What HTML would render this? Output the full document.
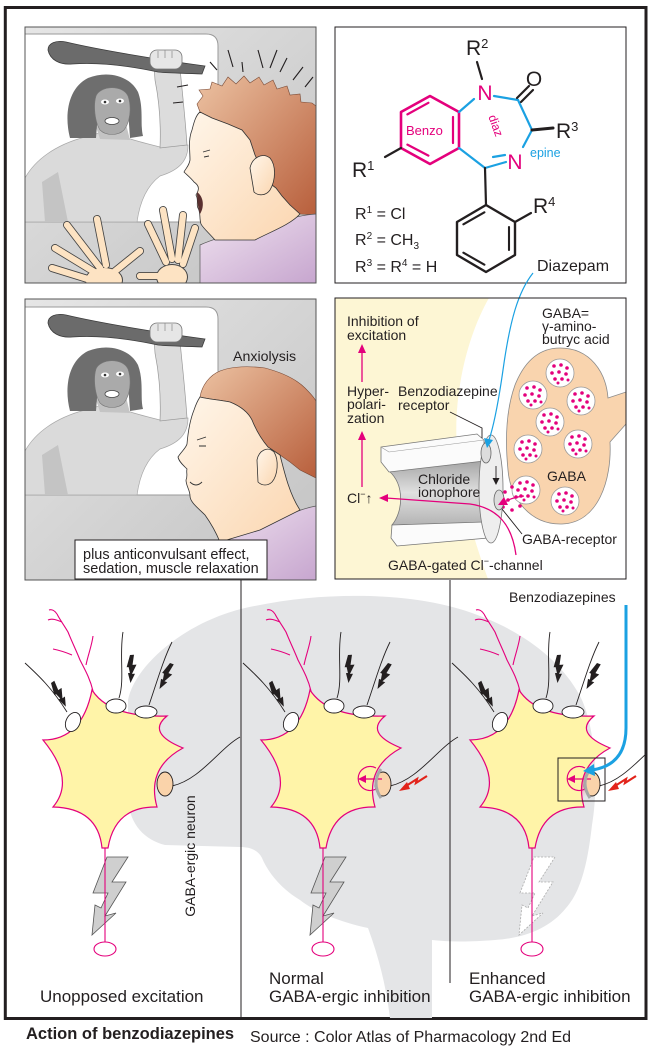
<!DOCTYPE html>
<html><head><meta charset="utf-8">
<style>
html,body{margin:0;padding:0;background:#fff;}
svg{display:block;}
text{font-family:"Liberation Sans",Arial,sans-serif;fill:#231f20;}
</style></head><body>
<svg width="653" height="1048" viewBox="0 0 653 1048" xmlns="http://www.w3.org/2000/svg" xmlns:xlink="http://www.w3.org/1999/xlink">
<defs>
 <linearGradient id="bg" x1="0" y1="0" x2="1" y2="1">
  <stop offset="0" stop-color="#e6e6e6"/><stop offset="1" stop-color="#c2c2c2"/>
 </linearGradient>
 <linearGradient id="hair" x1="0" y1="0" x2="1" y2="1">
  <stop offset="0" stop-color="#ecc2a2"/><stop offset="1" stop-color="#b85f3c"/>
 </linearGradient>
 <linearGradient id="shirt" x1="0" y1="0" x2="1" y2="1">
  <stop offset="0" stop-color="#efe2ef"/><stop offset="1" stop-color="#c7a6cf"/>
 </linearGradient>
 <linearGradient id="skin" x1="0" y1="0" x2="1" y2="1">
  <stop offset="0" stop-color="#fff6ea"/><stop offset="1" stop-color="#fbd6b0"/>
 </linearGradient>
 <linearGradient id="chan" x1="0" y1="0" x2="0" y2="1">
  <stop offset="0" stop-color="#a4a4a4"/><stop offset="0.5" stop-color="#e0e0e0"/><stop offset="1" stop-color="#b4b4b4"/>
 </linearGradient>
 <radialGradient id="glow" cx="0.5" cy="0.5" r="0.5">
  <stop offset="0" stop-color="#fde4e4"/>
  <stop offset="0.45" stop-color="#f07f98"/>
  <stop offset="0.7" stop-color="#f49aa8" stop-opacity="0.7"/>
  <stop offset="1" stop-color="#f8c0c0" stop-opacity="0"/>
 </radialGradient>
 <clipPath id="cp1"><rect x="25" y="27" width="291" height="256"/></clipPath>
 <clipPath id="cp3"><rect x="25" y="299" width="291" height="281"/></clipPath>
 <clipPath id="clipBot"><rect x="6" y="580" width="640" height="438"/></clipPath>

 <g id="cave">
  <path d="M25,34 H206 Q218,34 218,46 V222 H25 Z" fill="#fff" stroke="#9a9a9a" stroke-width="1"/>
  <path d="M25,178 C35,160 55,145 85,137 C95,134 103,132 110,130 C120,137 140,142 160,147 L188,145 C188,160 180,170 160,176 C148,185 140,200 137,222 L25,222 Z" fill="#dadada" stroke="#a8a8a8" stroke-width="0.7"/>
  <path d="M42,182 L58,172 L68,222 L45,222 Z" fill="#c4c4c4"/>
  <path d="M95,124 L126,124 L130,140 L100,139 Z" fill="#c4c4c4"/>
  <path d="M70,138 C64,115 68,88 88,78 C108,70 130,76 138,92 C144,108 140,125 143,136 L130,138 L128,110 L98,112 L96,138 Z" fill="#6e6e6e"/>
  <path d="M96,96 C100,86 122,84 128,96 C132,108 130,122 124,130 C118,136 106,136 100,130 C95,122 93,106 96,96 Z" fill="#aaaaaa" stroke="#777" stroke-width="0.6"/>
  <ellipse cx="105" cy="102" rx="4" ry="2.5" fill="#fff"/><circle cx="105" cy="102" r="1.3" fill="#333"/>
  <ellipse cx="120" cy="101" rx="4" ry="2.5" fill="#fff"/><circle cx="120" cy="101" r="1.3" fill="#333"/>
  <ellipse cx="112" cy="121" rx="7" ry="3.5" fill="#fff" stroke="#444" stroke-width="0.8"/>
  <path d="M160,148 C161,125 159,100 155,80 L154,66 L180,68 C182,90 185,115 187,145 Z" fill="#dcdcdc" stroke="#999" stroke-width="0.7"/>
  <path d="M48,50 C48,43 56,40 66,42 C100,50 160,60 205,66 L202,74 C180,73 165,73 158,72 C130,66 100,62 72,64 C60,65 50,60 48,50 Z" fill="#6b6b6b" stroke="#3c3c3c" stroke-width="0.8"/>
  <rect x="150" y="50" width="32" height="19" rx="7" fill="#e6e6e6" stroke="#777" stroke-width="0.8"/>
  <path d="M158,51 V58 M165,50 V58 M172,51 V58" stroke="#888" stroke-width="0.7"/>
 </g>

 <g id="ves">
  <circle cx="0" cy="0" r="14" fill="#fff" stroke="#9a9a9a" stroke-width="0.8"/>
  <g fill="#e4007c">
   <circle cx="-6" cy="-7" r="1.8"/><circle cx="1" cy="-8" r="1.8"/><circle cx="7" cy="-5" r="1.8"/>
   <circle cx="-8" cy="0" r="1.8"/><circle cx="-1" cy="-1" r="1.8"/><circle cx="6" cy="1" r="1.8"/>
   <circle cx="-5" cy="6" r="1.8"/><circle cx="2" cy="6" r="1.8"/><circle cx="8" cy="7" r="1.5"/>
   <circle cx="-2" cy="10" r="1.5"/>
  </g>
 </g>

 <path id="bolt" d="M0,0 L4,0 L2,10 L6,10 L1,19 L4,19 L-1,28 L-3,18 L-1,18 L-2,12 L-4,12 Z" fill="#231f20"/>

 <g id="neuron">
  <path d="M92,690 Q110,718 167,716 Q146,733 183,748 Q146,768 157,807 Q115,806 108,848 L102,848 Q98,808 53,807 Q76,780 43,740 Q82,740 92,690 Z" fill="#fff4a8" stroke="#e4007c" stroke-width="1.2"/>
  <g fill="none" stroke="#e4007c" stroke-width="1.1">
   <path d="M93,691 C90,678 84,668 80,660 C76,650 72,642 68,632 C64,625 60,620 57,614"/>
   <path d="M86,665 C88,655 92,645 93,636"/>
   <path d="M72,655 C65,652 58,650 53,649"/>
   <path d="M62,622 C57,620 52,618 48,620"/>
   <path d="M57,614 C55,611 52,609 49,610"/>
   <path d="M105,848 L105,942"/>
  </g>
  <ellipse cx="105" cy="949" rx="11" ry="7" fill="#fff" stroke="#e4007c" stroke-width="1.1"/>
  <g fill="none" stroke="#231f20" stroke-width="0.9">
   <path d="M25,663 C38,675 52,688 67,712"/>
   <path d="M123,632 C119,655 125,680 119,698"/>
   <path d="M172,642 C163,660 156,685 149,705"/>
   <path d="M240,737 C220,748 200,780 172,786"/>
  </g>
  <ellipse cx="73" cy="722" rx="7" ry="10" transform="rotate(25 73 722)" fill="#fff" stroke="#231f20" stroke-width="0.9"/>
  <ellipse cx="116" cy="706" rx="10" ry="7" fill="#fff" stroke="#231f20" stroke-width="0.9"/>
  <ellipse cx="146" cy="712" rx="11" ry="6" fill="#fff" stroke="#231f20" stroke-width="0.9"/>
  <ellipse cx="165" cy="784" rx="8" ry="12" fill="#fad3aa" stroke="#231f20" stroke-width="0.9"/>
  <use xlink:href="#bolt" href="#bolt" transform="translate(51,683) rotate(-34)"/>
  <use xlink:href="#bolt" href="#bolt" transform="translate(130,655) rotate(-3)"/>
  <use xlink:href="#bolt" href="#bolt" transform="translate(170,663) rotate(20)"/>
 </g>

 <g id="inhib">
  <path d="M376,768 A12,12 0 1,0 376,789" fill="none" stroke="#e4007c" stroke-width="1.2"/>
  <path d="M382,779 L364,779" stroke="#e4007c" stroke-width="1.3"/>
  <path d="M358,779 L366,775 L366,783 Z" fill="#e4007c"/>
  <path d="M381,769 Q371,783 381,798" fill="none" stroke="#a8a8a8" stroke-width="3"/>
  <path d="M427,776 L416,783 L417,779 L406,786" fill="none" stroke="#e2231a" stroke-width="2.2"/>
  <path d="M399,791 L407,782 L410,789 Z" fill="#e2231a"/>
 </g>
</defs>

<!-- outer frame -->
<rect x="5.3" y="7.5" width="640.7" height="1011" fill="#fff" stroke="#231f20" stroke-width="3"/>

<!-- PANEL 1 -->
<g clip-path="url(#cp1)">
 <rect x="25" y="27" width="291" height="256" fill="url(#bg)"/>
 <use xlink:href="#cave" href="#cave"/>
 <path d="M197,104 L203,96 L199,90 L210,89 L212,82 L222,86 L228,77 L236,84 L244,76 L250,83 L259,77 L264,85 L273,80 L277,89 L287,86 L290,95 L300,94 L301,102 L312,103 L316,106 L316,215 L300,214 L290,205 L282,196 L276,188 L268,182 L262,170 L255,155 L250,140 L242,130 L228,124 L212,118 L200,112 Z" fill="url(#hair)" stroke="#7a4a35" stroke-width="0.6"/>
 <path d="M200,283 L200,245 C215,238 240,232 265,225 C285,220 300,215 316,214 L316,283 Z" fill="url(#shirt)" stroke="#555" stroke-width="0.7"/>
 <path d="M200,112 L212,118 L228,124 L242,130 L250,140 L255,155 L262,170 L268,182 L276,188 L282,196 L290,205 L300,214 C290,225 270,232 255,240 L215,240 C208,232 203,228 201,224 C199,218 201,213 198,208 C196,205 199,200 196,195 C199,190 200,186 194,182 C191,178 187,175 184,172 C186,168 189,166 190,160 C190,150 188,140 192,130 C194,122 196,115 200,112 Z" fill="url(#skin)" stroke="#333" stroke-width="0.8"/>
 <path d="M197,192 C203,196 205,206 200,214 C198,208 197,200 197,192 Z" fill="#5a3030"/>
 <path d="M203,152 L210,150 M204,157 L209,156" stroke="#333" stroke-width="0.9"/>
 <path d="M250,168 C252,158 262,152 270,158 C276,165 276,180 270,190 C266,196 258,196 254,192 Z" fill="url(#skin)" stroke="#333" stroke-width="0.8"/>
 <g stroke="#231f20" stroke-width="1.1" fill="none">
  <path d="M228,50 L233,67 M242,62 L243,72 M258,50 L263,68 M277,50 L270,68 M287,58 L280,72 M303,67 L293,80 M313,77 L305,87 M210,62 L217,70 M177,87 L188,85 M173,103 L183,102"/>
 </g>
 <!-- hands -->
 <g stroke-linecap="round" fill="none">
  <path d="M100,268 L67,225 M106,265 L97,219 M96,273 L55,248 M94,281 L52,268 M114,272 L140,251" stroke="#444" stroke-width="8"/>
  <path d="M166,262 L148,224 M172,259 L163,210 M178,260 L183,215 M183,264 L195,228 M160,276 L140,276" stroke="#444" stroke-width="8"/>
 </g>
 <ellipse cx="104" cy="280" rx="19" ry="13" fill="#444"/>
 <ellipse cx="172" cy="277" rx="16" ry="13" fill="#444"/>
 <g stroke-linecap="round" fill="none">
  <path d="M100,268 L67,225 M106,265 L97,219 M96,273 L55,248 M94,281 L52,268 M114,272 L140,251" stroke="#fde3c3" stroke-width="6.3"/>
  <path d="M166,262 L148,224 M172,259 L163,210 M178,260 L183,215 M183,264 L195,228 M160,276 L140,276" stroke="#fde3c3" stroke-width="6.3"/>
 </g>
 <ellipse cx="104" cy="280" rx="18" ry="12" fill="#fde3c3"/>
 <ellipse cx="172" cy="277" rx="15" ry="12" fill="#fde3c3"/>
</g>
<rect x="25" y="27" width="291" height="256" fill="none" stroke="#555" stroke-width="1"/>

<!-- PANEL 3 -->
<g clip-path="url(#cp3)">
 <rect x="25" y="299" width="291" height="281" fill="url(#bg)"/>
 <use xlink:href="#cave" href="#cave" transform="translate(0,273)"/>
 <path d="M200,397 C202,385 210,375 220,371 C232,366 250,366 265,368 C280,372 295,378 305,388 C312,395 316,400 316,402 L316,478 L300,470 L290,462 L280,455 L268,447 C262,440 256,430 252,420 C248,412 240,406 230,402 C220,400 208,399 200,397 Z" fill="url(#hair)" stroke="#7a4a35" stroke-width="0.6"/>
 <path d="M210,580 L212,545 C230,536 255,528 280,518 C295,512 305,508 316,506 L316,580 Z" fill="url(#shirt)" stroke="#555" stroke-width="0.7"/>
 <path d="M200,397 C208,399 220,400 230,402 C240,406 248,412 252,420 C256,430 262,440 268,447 L280,455 C285,475 290,495 300,510 L260,530 L220,542 C215,530 210,522 205,515 C198,508 190,502 190,496 C190,490 186,486 186,480 C188,476 186,472 187,469 C184,466 179,462 178,457 C181,452 186,448 187,444 C188,432 190,420 194,410 C196,404 198,400 200,397 Z" fill="url(#skin)" stroke="#333" stroke-width="0.8"/>
 <path d="M197,440 L206,437 M199,446 L206,446 M190,482 C194,486 198,486 202,482" stroke="#333" stroke-width="0.9" fill="none"/>
 <path d="M257,460 C259,450 268,446 274,452 C279,460 278,475 272,482 C268,486 262,486 258,482 Z" fill="url(#skin)" stroke="#333" stroke-width="0.8"/>
 <text x="233" y="361" font-size="14.2">Anxiolysis</text>
</g>
<rect x="25" y="299" width="291" height="281" fill="none" stroke="#555" stroke-width="1"/>
<rect x="75" y="540" width="192" height="39" fill="#fff" stroke="#231f20" stroke-width="1"/>
<text x="83" y="559" font-size="14.5">plus anticonvulsant effect,</text>
<text x="83" y="573" font-size="14.5">sedation, muscle relaxation</text>

<!-- PANEL 2 chemistry -->
<rect x="335" y="27" width="291" height="256" fill="#fff" stroke="#231f20" stroke-width="1"/>
<g stroke-linecap="round" fill="none">
 <path d="M430,96 L459,112 L459,148 L430,164 L401,148 L401,112 Z" stroke="#e4007c" stroke-width="2.6" stroke-linejoin="round"/>
 <path d="M453,117 L453,143 M428.4,155.6 L407.4,144.6 M407.4,114.4 L428.4,102.8" stroke="#e4007c" stroke-width="2.2"/>
 <path d="M486,205 L515,222 L515,255 L486,272 L457,255 L457,222 Z" stroke="#231f20" stroke-width="2.4" stroke-linejoin="round"/>
 <path d="M509,227 L509,250 M484.4,264.7 L463.4,252.7 M463.4,224.3 L484.4,212.3" stroke="#231f20" stroke-width="2.1"/>
 <g stroke="#1ba1e2" stroke-width="2.2">
  <path d="M459,112 L474,99"/>
  <path d="M494,96 L518,100"/>
  <path d="M518,100 L532,130"/>
  <path d="M532,130 L523,147"/>
  <path d="M506,162 L485,168"/>
  <path d="M493,157 L505,155"/>
  <path d="M485,168 L459,148"/>
 </g>
 <g stroke="#231f20" stroke-width="2.2">
  <path d="M477,62 L482,79"/>
  <path d="M517,98 L529,86 M521,102 L533,90"/>
  <path d="M532,130 L553,128" stroke-width="3"/>
  <path d="M485,168 L486,205"/>
  <path d="M401,148 L385,157"/>
  <path d="M515,222 L531,213"/>
 </g>
</g>
<text x="466" y="55" font-size="21">R<tspan font-size="13" dy="-7">2</tspan></text>
<text x="534" y="86" font-size="21" text-anchor="middle">O</text>
<text x="485" y="100" font-size="21" text-anchor="middle" style="fill:#e4007c">N</text>
<text x="515" y="169" font-size="21" text-anchor="middle" style="fill:#e4007c">N</text>
<text x="556" y="138" font-size="21">R<tspan font-size="13" dy="-7">3</tspan></text>
<text x="352" y="177" font-size="21">R<tspan font-size="13" dy="-7">1</tspan></text>
<text x="533" y="213" font-size="21">R<tspan font-size="13" dy="-7">4</tspan></text>
<text x="406" y="135" font-size="13" style="fill:#e4007c">Benzo</text>
<text x="492" y="127" font-size="12" text-anchor="middle" transform="rotate(70 492 127)" style="fill:#e4007c">diaz</text>
<text x="530" y="157" font-size="12.5" style="fill:#1ba1e2">epine</text>
<text x="355" y="219" font-size="16">R<tspan font-size="10" dy="-6">1</tspan><tspan dy="6"> = Cl</tspan></text>
<text x="355" y="245" font-size="16">R<tspan font-size="10" dy="-6">2</tspan><tspan dy="6"> = CH</tspan><tspan font-size="10" dy="4">3</tspan></text>
<text x="355" y="272" font-size="16">R<tspan font-size="10" dy="-6">3</tspan><tspan dy="6"> = R</tspan><tspan font-size="10" dy="-6">4</tspan><tspan dy="6"> = H</tspan></text>
<text x="537" y="271" font-size="16">Diazepam</text>

<!-- PANEL 4 channel -->
<rect x="335" y="298" width="291" height="281" fill="#fff"/>
<path d="M335,298 L489,298 C466,338 453,398 457,448 C461,498 474,540 488,579 L335,579 Z" fill="#fdf6d4"/>
<path d="M560,348 C590,348 606,372 608,398 L626,392 L626,424 L610,442 C612,480 598,523 562,524 C530,525 510,498 508,470 C505,440 506,410 515,385 C525,360 540,348 560,348 Z" fill="#f9d4ae" stroke="#8a8a8a" stroke-width="0.8"/>
<use xlink:href="#ves" href="#ves" x="560" y="373"/>
<use xlink:href="#ves" href="#ves" x="533" y="395"/>
<use xlink:href="#ves" href="#ves" x="581" y="401"/>
<use xlink:href="#ves" href="#ves" x="550" y="422"/>
<use xlink:href="#ves" href="#ves" x="528" y="449"/>
<use xlink:href="#ves" href="#ves" x="578" y="444"/>
<use xlink:href="#ves" href="#ves" x="565" y="501"/>
<use xlink:href="#ves" href="#ves" x="526" y="490"/>
<g fill="#e4007c">
 <circle cx="505" cy="492" r="1.8"/><circle cx="512" cy="487" r="1.8"/><circle cx="508" cy="500" r="1.8"/>
 <circle cx="516" cy="497" r="1.8"/><circle cx="503" cy="507" r="1.8"/><circle cx="520" cy="506" r="1.8"/><circle cx="512" cy="510" r="1.8"/>
</g>
<text x="547" y="481" font-size="14">GABA</text>
<!-- channel -->
<path d="M389,471 L484,460 L484,523 L392,525 C403,512 405,485 389,471 Z" fill="url(#chan)" stroke="#777" stroke-width="0.8"/>
<path d="M381,447 L477,434 L484,440 L484,461 L389,472 L381,462 Z" fill="#fbfbfb" stroke="#777" stroke-width="0.8"/>
<path d="M381,447 L389,452 L484,440" fill="none" stroke="#999" stroke-width="0.6"/>
<path d="M392,525 L484,522 L488,538 L397,546 L391,538 Z" fill="#fbfbfb" stroke="#777" stroke-width="0.8"/>
<ellipse cx="491" cy="489" rx="12" ry="54" fill="#eeeeee" stroke="#777" stroke-width="0.8"/>
<ellipse cx="486" cy="453" rx="5" ry="10" fill="#dcdcdc" stroke="#666" stroke-width="0.8"/>
<ellipse cx="499" cy="500" rx="5" ry="10" fill="#dcdcdc" stroke="#666" stroke-width="0.8"/>
<path d="M496,466 L496,478" stroke="#231f20" stroke-width="0.9"/>
<path d="M492.5,478 L499.5,478 L496,485 Z" fill="#231f20"/>
<text x="418" y="484" font-size="14">Chloride</text>
<text x="418" y="497" font-size="14">ionophore</text>
<!-- arrows -->
<path d="M516,555 C512,525 498,508 470,504 L386,498" fill="none" stroke="#e4007c" stroke-width="1.3"/>
<path d="M379,498 L388,494 L388,502 Z" fill="#e4007c"/>
<path d="M524,496 C516,497 509,499 505,502" fill="none" stroke="#e4007c" stroke-width="1.3"/>
<path d="M498,505 L504,497 L508,505 Z" fill="#e4007c"/>
<path d="M362,487 L362,439 M362,382 L362,352" stroke="#e4007c" stroke-width="1.3"/>
<path d="M362,431 L358,440 L366,440 Z M362,344 L358,353 L366,353 Z" fill="#e4007c"/>
<path d="M533,273 C518,292 510,320 503,370 C498,405 493,428 489,440" fill="none" stroke="#1ba1e2" stroke-width="1.2"/>
<path d="M487,448 L484,438 L493,440 Z" fill="#1ba1e2"/>
<path d="M450,412 L482,428 L482,438 M502,509 L522,534" fill="none" stroke="#231f20" stroke-width="0.9"/>
<text x="347" y="326" font-size="14">Inhibition of</text>
<text x="347" y="340" font-size="14">excitation</text>
<text x="347" y="396" font-size="14">Hyper-</text>
<text x="347" y="409" font-size="14">polari-</text>
<text x="347" y="423" font-size="14">zation</text>
<text x="398" y="396" font-size="14">Benzodiazepine</text>
<text x="398" y="410" font-size="14">receptor</text>
<text x="347" y="503" font-size="14">Cl<tspan font-size="9" dy="-6">−</tspan><tspan dy="6">↑</tspan></text>
<text x="542" y="318" font-size="14">GABA=</text>
<text x="542" y="331" font-size="14">γ-amino-</text>
<text x="542" y="344" font-size="14">butryc acid</text>
<text x="522" y="544" font-size="14">GABA-receptor</text>
<text x="388" y="570" font-size="14">GABA-gated Cl<tspan font-size="9" dy="-6">−</tspan><tspan dy="6">-channel</tspan></text>
<rect x="335" y="298" width="291" height="281" fill="none" stroke="#231f20" stroke-width="1"/>

<!-- BOTTOM SECTION -->
<g clip-path="url(#clipBot)">
 <path d="M128,700 C135,665 185,622 245,608 C290,598 330,595 370,596 C420,598 455,605 490,620 C530,637 565,665 582,700 C597,735 598,790 592,825 C588,860 582,890 566,908 C550,928 525,938 495,940 C470,942 450,942 432,940 L432,1018 L390,1018 C386,985 378,955 368,928 C340,922 315,912 300,900 C280,888 268,872 262,858 C258,850 250,847 240,847 L165,845 C145,840 130,825 128,800 Z" fill="#e4e5e7"/>
 <path d="M107,857 L128,857 L112,882 L126,882 L105,916 L116,913 L92,935 L95,905 L101,908 L108,893 L93,893 Z" fill="#cfcfcf" stroke="#555" stroke-width="0.8"/>
 <path d="M325,857 L346,857 L330,882 L344,882 L323,916 L334,913 L310,935 L313,905 L319,908 L326,893 L311,893 Z" fill="#cfcfcf" stroke="#555" stroke-width="0.8"/>
 <path d="M534,857 L555,857 L539,882 L553,882 L532,916 L543,913 L519,935 L522,905 L528,908 L535,893 L520,893 Z" fill="#fff" stroke="#aaa" stroke-width="0.8" stroke-dasharray="2,1.5"/>
 <circle cx="569" cy="778" r="25" fill="url(#glow)"/>
 <use xlink:href="#neuron" href="#neuron"/>
 <use xlink:href="#neuron" href="#neuron" transform="translate(218,0)"/>
 <use xlink:href="#neuron" href="#neuron" transform="translate(427,0)"/>
 <use xlink:href="#inhib" href="#inhib"/>
 <use xlink:href="#inhib" href="#inhib" transform="translate(209,0)"/>
 <rect x="558" y="758" width="47" height="43" fill="none" stroke="#231f20" stroke-width="1"/>
 <path d="M626,605 L626,728 Q626,765 592,770" fill="none" stroke="#1ba1e2" stroke-width="3"/>
 <path d="M583,771 L594,764 L595,776 Z" fill="#1ba1e2"/>
 <path d="M241,580 L241,1018 M450,579 L450,983" stroke="#231f20" stroke-width="1"/>
</g>
<text x="195" y="856" font-size="14" text-anchor="middle" transform="rotate(-90 195 856)">GABA-ergic neuron</text>
<text x="509" y="602" font-size="14">Benzodiazepines</text>
<text x="40" y="1002" font-size="17">Unopposed excitation</text>
<text x="269" y="984" font-size="17">Normal</text>
<text x="269" y="1002" font-size="17">GABA-ergic inhibition</text>
<text x="469" y="984" font-size="17">Enhanced</text>
<text x="469" y="1002" font-size="17">GABA-ergic inhibition</text>

<!-- caption -->
<text x="26" y="1039" font-size="16.5" font-weight="bold">Action of benzodiazepines</text>
<text x="250" y="1042" font-size="16">Source : Color Atlas of Pharmacology 2nd Ed</text>
</svg>
</body></html>
